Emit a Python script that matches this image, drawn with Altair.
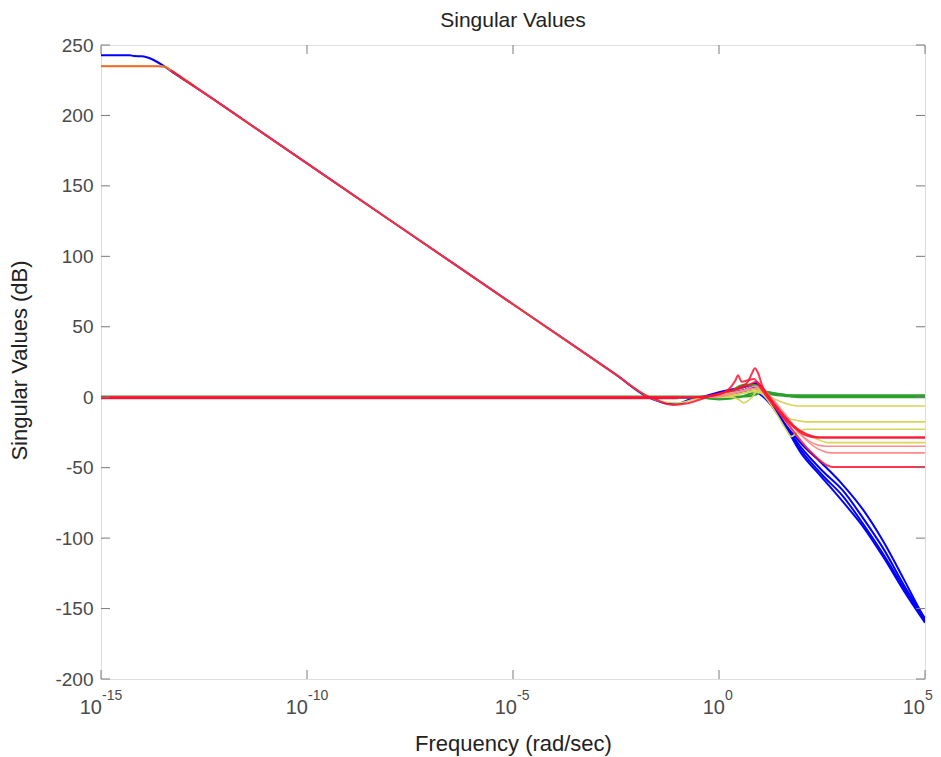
import altair as alt
import pandas as pd

# ---------------- data (x = log10 of frequency in rad/sec, y = dB) ----------------
blue_main_e = [-15, -14.3, -14.2, -14.0, -13.85, -13.7, -13.5, -13.2, -12.5, -11, -8, -5, -2.5, -1.75,
               -1.5, -1.25, -1.0, -0.7, -0.3, 0.0, 0.4, 0.7, 0.9, 1.05, 1.2, 2.0, 2.5, 3.0, 3.5, 4.0, 4.5, 5.0]
blue_main_db = [242.7, 242.7, 242.2, 242, 241, 239, 235.5, 229.5, 216, 186, 126, 66, 16, 0.5,
                -2.5, -4.5, -4.5, -1.5, 1, 3.5, 6, 8, 10, 6, -2, -33, -47, -62, -80, -103, -130, -158]

blue_f1_e = [-15, -0.5, 0.0, 0.3, 0.6, 0.85, 1.0, 1.25, 2.0, 2.5, 3.0, 3.5, 4.0, 4.5, 5.0]
blue_f1_db = [0, 0, 1, 3, 5, 7, 3, -5, -36, -52, -66, -86, -108, -134, -157]
blue_f2_e = [-15, -0.2, 0.3, 0.7, 0.95, 1.1, 1.3, 2.0, 2.5, 3.0, 3.5, 4.0, 4.5, 5.0]
blue_f2_db = [0, 0, 2, 6, 9, 4, -6, -38, -55, -70, -90, -112, -136, -159]
blue_f3_e = [-15, 0.0, 0.5, 0.8, 1.0, 1.35, 2.0, 2.5, 3.0, 3.5, 4.0, 4.5, 5.0]
blue_f3_db = [0, 0, 3, 5, 2, -8, -40, -57, -74, -92, -114, -138, -160]

green_a_e = [-15, 0.0, 0.3, 0.5, 0.7, 0.9, 1.05, 1.25, 1.5, 1.8, 2.2, 5]
green_a_db = [0, 0, 4, 8, 9, 8.5, 5, 3, 2, 1, 0.8, 0.8]
green_b_e = [-15, -0.6, 0.0, 0.5, 0.8, 1.0, 1.2, 1.6, 2.0, 5]
green_b_db = [0, 0, -1.5, 0, 3, 5, 2.5, 1, 0, 0]
green_c_e = [-15, 0.6, 0.9, 1.05, 1.3, 1.7, 5]
green_c_db = [0.5, 0.5, 2, 4, 3, 1.4, 1.4]

yellow_main_e = [-15, -13.6, -13.45, -13.3, -13.0, -12.5, -11, -8, -5, -2.5, -1.75, -1.4, -1.0, -0.6,
                 -0.2, 0.3, 0.7, 0.95, 1.2, 1.8, 2.4, 2.65, 5]
yellow_main_db = [235, 235, 234.5, 232, 226, 216, 186, 126, 66, 16, 1, -3, -4, -1.5,
                  1, 3, 5, 6, 0, -20, -30, -32.2, -32.2]
yellow_a_e = [-15, 0.3, 0.5, 0.6, 0.8, 0.95, 1.1, 1.4, 1.75, 1.95, 5]
yellow_a_db = [0, 0, -2, -4, 0, 5, 3, -2, -5.5, -6.2, -6.2]
yellow_b_e = [-15, 0.0, 0.4, 0.8, 1.0, 1.3, 1.7, 2.0, 2.15, 5]
yellow_b_db = [0, 0, 2, 4, 3, -5, -15, -17, -17.5, -17.5]
yellow_c_e = [-15, 0.2, 0.6, 0.9, 1.1, 1.4, 1.65, 1.75, 1.9, 2.1, 5]
yellow_c_db = [0, 0, 3, 5, 1, -12, -24, -28, -25, -22.7, -22.7]

orange_e = [-15, -13.6, -13.45, -13.3, -13.0, -12.7]
orange_db = [235, 235, 234.5, 232, 226, 220]

pink_a_e = [-15, -0.3, 0.2, 0.6, 0.9, 1.1, 1.5, 2.0, 2.4, 2.6, 5]
pink_a_db = [0, 0, 2, 5, 8, 3, -10, -27, -34, -34.8, -34.8]
pink_b_e = [-15, -0.1, 0.4, 0.8, 1.0, 1.2, 1.6, 2.1, 2.5, 2.7, 5]
pink_b_db = [0, 0, 3, 6, 7, 2, -12, -30, -38, -39.5, -39.5]

red_main_e = [-13.3, -13.0, -12.5, -11, -8, -5, -2.5, -1.75, -1.5, -1.3, -1.1,
              -0.8, -0.5, -0.2, 0.2, 0.5, 0.75, 0.9, 1.05, 1.3, 1.8, 2.2, 2.45, 5]
red_main_db = [232, 226, 216, 186, 126, 66, 16, 1, -2, -4.5, -5.5,
               -4.5, -2, 1, 4, 6, 9, 11, 7, -3, -20, -27, -28.6, -28.6]
red_zero_e = [-15, -1.0]
red_zero_db = [-0.8, -0.8]
red_p1_e = [-15, -0.6, -0.2, 0.2, 0.5, 0.7, 0.8, 0.87, 0.95, 1.05, 1.3, 1.7, 2.2, 2.6, 2.75, 5]
red_p1_db = [0, 0, 1, 4, 7, 11, 17, 20.6, 17, 8, -4, -20, -38, -48, -49.5, -49.5]
red_p2_e = [-15, -0.4, 0.0, 0.25, 0.4, 0.46, 0.55, 0.7, 0.85, 1.0, 1.3, 1.7, 2.1, 2.4, 5]
red_p2_db = [0, 0, 2, 6, 12, 15.6, 11, 12, 13, 7, -5, -18, -27, -28.6, -28.6]

x_tick_exps = [-15, -10, -5, 0, 5]
y_tick_vals = [-200, -150, -100, -50, 0, 50, 100, 150, 200, 250]

# ---------------- build tables ----------------
def table(series):
    rows = []
    for name, es, dbs in series:
        for i, (e, d) in enumerate(zip(es, dbs)):
            rows.append({"series": name, "freq": 10.0 ** e, "db": d, "i": i})
    return pd.DataFrame(rows)

groups = [
    ("blue", "#0000ff", 2.0, 1.0, [("b0", blue_main_e, blue_main_db), ("b1", blue_f1_e, blue_f1_db),
                                   ("b2", blue_f2_e, blue_f2_db), ("b3", blue_f3_e, blue_f3_db)]),
    ("green", "#2ca02c", 2.2, 1.0, [("g1", green_a_e, green_a_db), ("g2", green_b_e, green_b_db),
                                    ("g3", green_c_e, green_c_db)]),
    ("yellow", "#d6d65a", 1.6, 1.0, [("y0", yellow_main_e, yellow_main_db), ("y1", yellow_a_e, yellow_a_db),
                                     ("y2", yellow_b_e, yellow_b_db), ("y3", yellow_c_e, yellow_c_db)]),
    ("orange", "#f26a2a", 2.0, 1.0, [("o0", orange_e, orange_db)]),
    ("pink", "#ff8c8c", 1.6, 1.0, [("p1", pink_a_e, pink_a_db), ("p2", pink_b_e, pink_b_db)]),
    ("red", "#ff1030", 2.0, 0.85, [("r0", red_main_e, red_main_db), ("rz", red_zero_e, red_zero_db),
                                   ("r1", red_p1_e, red_p1_db), ("r2", red_p2_e, red_p2_db)]),
]

W, H = 824, 634
FONT = "Liberation Sans"
GRAY = "#7a7a7a"
LABEL = "#4a4a4a"
TITLE_C = "#222222"

xscale = alt.Scale(type="log", domain=[1e-15, 1e5], nice=False)
yscale = alt.Scale(domain=[-200, 250], nice=False, zero=False)

layers = []
first = True
for gname, color, sw, op, series in groups:
    df = table(series)
    if first:
        xenc = alt.X("freq:Q", scale=xscale,
                     axis=alt.Axis(title="Frequency (rad/sec)", labels=False, ticks=False, tickSize=0,
                                   domain=False, grid=False, titleFont=FONT, titleFontSize=22,
                                   titleFontWeight="normal", titleColor=TITLE_C, titlePadding=54))
        yenc = alt.Y("db:Q", scale=yscale,
                     axis=alt.Axis(title="Singular Values (dB)", values=y_tick_vals, ticks=False, tickSize=0,
                                   domain=False, grid=False, labelFont=FONT, labelFontSize=19,
                                   labelColor=LABEL, labelPadding=8, labelExpr="datum.value + ''",
                                   titleFont=FONT, titleFontSize=22, titleFontWeight="normal",
                                   titleColor=TITLE_C, titleX=-82, titleY=315, titleAngle=270,
                                   titleBaseline="middle", titleAlign="center"))
        first = False
    else:
        xenc = alt.X("freq:Q", scale=xscale)
        yenc = alt.Y("db:Q", scale=yscale)
    layers.append(
        alt.Chart(df).mark_line(color=color, strokeWidth=sw, opacity=op, clip=True, interpolate="monotone")
        .encode(x=xenc, y=yenc, detail="series:N", order="i:Q")
    )

# inward tick marks on all four sides
xt = pd.DataFrame({"freq": [10.0 ** e for e in x_tick_exps], "e": x_tick_exps})
yt = pd.DataFrame({"db": y_tick_vals})
tick_len = 9
layers.append(alt.Chart(xt).mark_rule(color=GRAY, strokeWidth=1).encode(
    x=alt.X("freq:Q", scale=xscale), y=alt.value(H), y2=alt.value(H - tick_len)))
layers.append(alt.Chart(xt).mark_rule(color=GRAY, strokeWidth=1).encode(
    x=alt.X("freq:Q", scale=xscale), y=alt.value(0), y2=alt.value(tick_len)))
layers.append(alt.Chart(yt).mark_rule(color=GRAY, strokeWidth=1).encode(
    y=alt.Y("db:Q", scale=yscale), x=alt.value(0), x2=alt.value(tick_len)))
layers.append(alt.Chart(yt).mark_rule(color=GRAY, strokeWidth=1).encode(
    y=alt.Y("db:Q", scale=yscale), x=alt.value(W), x2=alt.value(W - tick_len)))

# x tick labels: "10" with a raised exponent
xt["exp"] = xt["e"].astype(str)
for cond, dx in [("datum.e <= -10", 1), ("datum.e == -5", 4), ("datum.e == 0", 6), ("datum.e == 5", 0)]:
    base = alt.Chart(xt).transform_filter(cond).mark_text(
        text="10", align="right", baseline="alphabetic", dx=dx, font=FONT, fontSize=20, color=LABEL
    ).encode(x=alt.X("freq:Q", scale=xscale), y=alt.value(H + 35))
    sup = alt.Chart(xt).transform_filter(cond).mark_text(
        align="left", baseline="alphabetic", dx=dx, font=FONT, fontSize=14, color=LABEL
    ).encode(x=alt.X("freq:Q", scale=xscale), y=alt.value(H + 21), text="exp:N")
    layers += [base, sup]

chart = alt.layer(*layers).properties(
    width=W, height=H,
    title=alt.Title("Singular Values", font=FONT, fontSize=21, fontWeight="normal", color=TITLE_C,
                    anchor="middle", offset=5),
    autosize=alt.AutoSizeParams(type="none"),
    padding={"left": 93, "top": 37, "right": 8, "bottom": 80},
).configure_view(stroke=GRAY, strokeWidth=1.5).configure(background="white")

chart.save("out.html", embed_options={"renderer": "svg", "actions": False})
